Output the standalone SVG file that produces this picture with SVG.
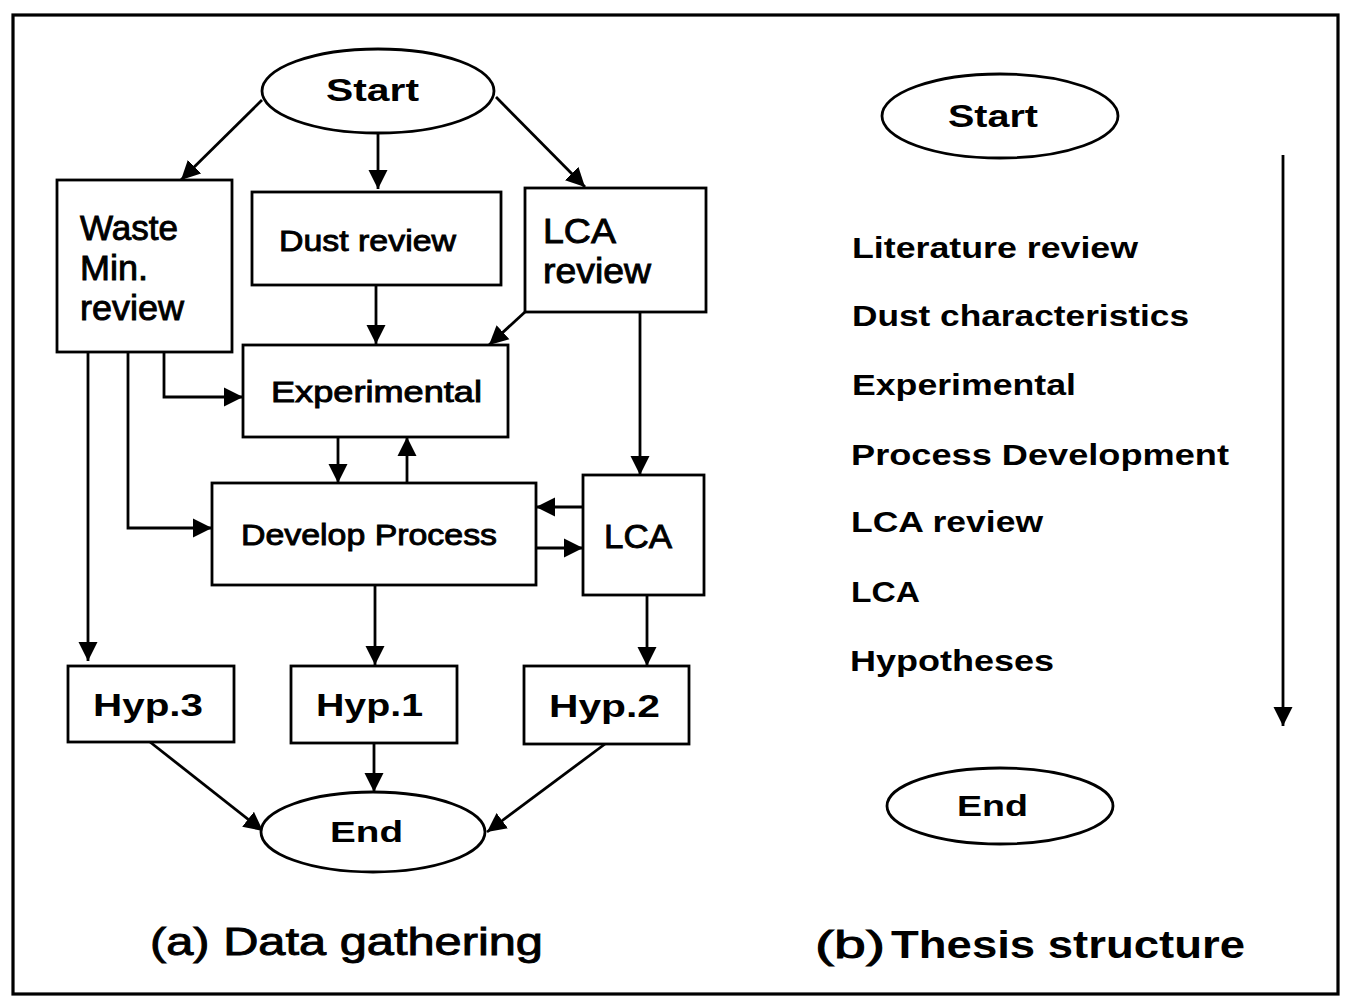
<svg xmlns="http://www.w3.org/2000/svg" width="1352" height="998" viewBox="0 0 1352 998">
<style>
.bg{fill:#fff}
.frame{fill:none;stroke:#000;stroke-width:3.2}
.box{fill:#fff;stroke:#000;stroke-width:2.8}
.ln{fill:none;stroke:#000;stroke-width:2.8;marker-end:url(#ah)}
.t{font-family:"Liberation Sans",Arial,sans-serif;fill:#000}
.b{font-weight:bold}
.m{stroke:#000;stroke-width:0.9}
</style>
<defs>
<marker id="ah" viewBox="0 0 10 10" refX="10" refY="5" markerUnits="userSpaceOnUse" markerWidth="19" markerHeight="21" orient="auto">
<path d="M0,0 L10,5 L0,10 z" fill="#000"/>
</marker>
</defs>
<rect class="bg" x="0" y="0" width="1352" height="998"/>
<rect class="frame" x="13" y="15" width="1325" height="979"/>

<g id="connectors">
<line class="ln" x1="262" y1="100" x2="181" y2="180"/>
<line class="ln" x1="378" y1="134" x2="378" y2="189"/>
<line class="ln" x1="496" y1="97" x2="585" y2="187"/>
<line class="ln" x1="376" y1="285" x2="376" y2="344"/>
<line class="ln" x1="525" y1="312" x2="489" y2="345"/>
<polyline class="ln" points="164,352 164,397 243,397"/>
<line class="ln" x1="88" y1="352" x2="88" y2="661"/>
<polyline class="ln" points="128,352 128,528 212,528"/>
<line class="ln" x1="338" y1="437" x2="338" y2="483"/>
<line class="ln" x1="407" y1="483" x2="407" y2="437"/>
<line class="ln" x1="640" y1="312" x2="640" y2="475"/>
<line class="ln" x1="583" y1="507" x2="536" y2="507"/>
<line class="ln" x1="536" y1="548" x2="583" y2="548"/>
<line class="ln" x1="375" y1="585" x2="375" y2="665"/>
<line class="ln" x1="647" y1="595" x2="647" y2="666"/>
<line class="ln" x1="150" y1="742" x2="263" y2="831"/>
<line class="ln" x1="374" y1="743" x2="374" y2="792"/>
<line class="ln" x1="605" y1="744" x2="487" y2="832"/>
<line class="ln" x1="1283" y1="155" x2="1283" y2="726"/>
</g>

<g id="start-a">
<ellipse class="box" cx="378" cy="91" rx="116" ry="42"/>
<text class="t b" x="326" y="101" font-size="32" textLength="93" lengthAdjust="spacingAndGlyphs">Start</text>
</g>
<g id="waste-min-review">
<rect class="box" x="57" y="180" width="175" height="172"/>
<text class="t m" x="80" y="240" font-size="35" textLength="98" lengthAdjust="spacingAndGlyphs">Waste</text>
<text class="t m" x="80" y="280" font-size="35" textLength="68" lengthAdjust="spacingAndGlyphs">Min.</text>
<text class="t m" x="80" y="320" font-size="35" textLength="104" lengthAdjust="spacingAndGlyphs">review</text>
</g>
<g id="dust-review">
<rect class="box" x="252" y="192" width="249" height="93"/>
<text class="t m" x="279" y="251" font-size="29" textLength="177" lengthAdjust="spacingAndGlyphs">Dust review</text>
</g>
<g id="lca-review">
<rect class="box" x="525" y="188" width="181" height="124"/>
<text class="t m" x="543" y="243" font-size="35" textLength="73" lengthAdjust="spacingAndGlyphs">LCA</text>
<text class="t m" x="543" y="283" font-size="35" textLength="108" lengthAdjust="spacingAndGlyphs">review</text>
</g>
<g id="experimental">
<rect class="box" x="243" y="345" width="265" height="92"/>
<text class="t m" x="271" y="402" font-size="29" textLength="211" lengthAdjust="spacingAndGlyphs">Experimental</text>
</g>
<g id="develop-process">
<rect class="box" x="212" y="483" width="324" height="102"/>
<text class="t m" x="241" y="545" font-size="29" textLength="256" lengthAdjust="spacingAndGlyphs">Develop Process</text>
</g>
<g id="lca">
<rect class="box" x="583" y="475" width="121" height="120"/>
<text class="t m" x="604" y="548" font-size="34" textLength="68" lengthAdjust="spacingAndGlyphs">LCA</text>
</g>
<g id="hyp3">
<rect class="box" x="68" y="666" width="166" height="76"/>
<text class="t b" x="93" y="716" font-size="31" textLength="110" lengthAdjust="spacingAndGlyphs">Hyp.3</text>
</g>
<g id="hyp1">
<rect class="box" x="291" y="666" width="166" height="77"/>
<text class="t b" x="316" y="716" font-size="31" textLength="107" lengthAdjust="spacingAndGlyphs">Hyp.1</text>
</g>
<g id="hyp2">
<rect class="box" x="524" y="666" width="165" height="78"/>
<text class="t b" x="549" y="717" font-size="31" textLength="111" lengthAdjust="spacingAndGlyphs">Hyp.2</text>
</g>
<g id="end-a">
<ellipse class="box" cx="373" cy="832" rx="112" ry="40"/>
<text class="t b" x="330" y="842" font-size="30" textLength="73" lengthAdjust="spacingAndGlyphs">End</text>
</g>
<g id="caption-a">
<text class="t m" x="150" y="955" font-size="38" textLength="393" lengthAdjust="spacingAndGlyphs">(a) Data gathering</text>
</g>

<g id="start-b">
<ellipse class="box" cx="1000" cy="116" rx="118" ry="42"/>
<text class="t b" x="948" y="127" font-size="31" textLength="90" lengthAdjust="spacingAndGlyphs">Start</text>
</g>
<g id="thesis-list">
<text class="t b" x="852" y="258" font-size="29" textLength="286" lengthAdjust="spacingAndGlyphs">Literature review</text>
<text class="t b" x="852" y="326" font-size="29" textLength="337" lengthAdjust="spacingAndGlyphs">Dust characteristics</text>
<text class="t b" x="852" y="395" font-size="29" textLength="224" lengthAdjust="spacingAndGlyphs">Experimental</text>
<text class="t b" x="851" y="465" font-size="29" textLength="378" lengthAdjust="spacingAndGlyphs">Process Development</text>
<text class="t b" x="851" y="532" font-size="29" textLength="192" lengthAdjust="spacingAndGlyphs">LCA review</text>
<text class="t b" x="851" y="602" font-size="29" textLength="69" lengthAdjust="spacingAndGlyphs">LCA</text>
<text class="t b" x="850" y="671" font-size="29" textLength="204" lengthAdjust="spacingAndGlyphs">Hypotheses</text>
</g>
<g id="end-b">
<ellipse class="box" cx="1000" cy="806" rx="113" ry="38"/>
<text class="t b" x="957" y="816" font-size="30" textLength="71" lengthAdjust="spacingAndGlyphs">End</text>
</g>
<g id="caption-b">
<text class="t m" x="815" y="958" font-size="38" textLength="70" lengthAdjust="spacingAndGlyphs">(b)</text>
<text class="t b" x="891" y="958" font-size="38" textLength="354" lengthAdjust="spacingAndGlyphs">Thesis structure</text>
</g>
</svg>
